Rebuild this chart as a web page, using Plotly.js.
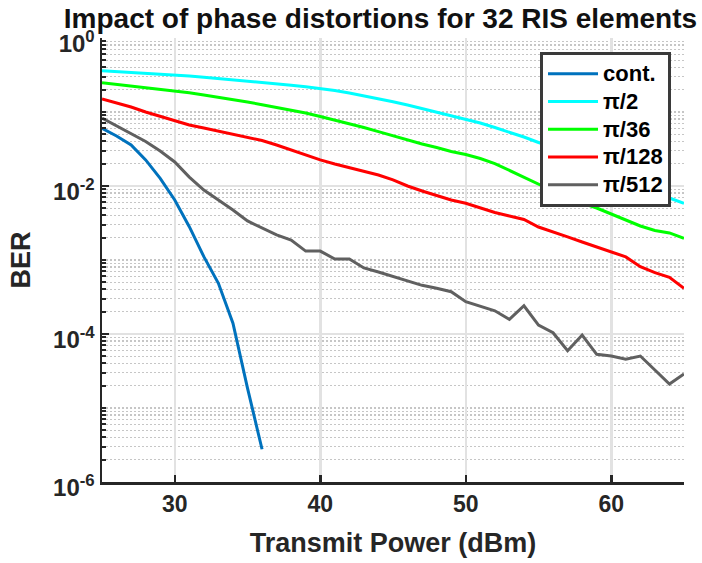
<!DOCTYPE html>
<html>
<head>
<meta charset="utf-8">
<script src="https://cdn.plot.ly/plotly-3.0.1.min.js"></script>
<style>
  html, body { margin: 0; padding: 0; background: #ffffff; }
  #chart { width: 702px; height: 563px; }
</style>
</head>
<body>
<div id="chart"></div>
<script>
// Transmit power sweep (dBm)
const powerFull = [25,26,27,28,29,30,31,32,33,34,35,36,37,38,39,40,41,42,43,44,45,
                   46,47,48,49,50,51,52,53,54,55,56,57,58,59,60,61,62,63,64,65];
const powerCont = [25,26,27,28,29,30,31,32,33,34,35,36];

// BER, continuous phase
const berCont = [0.0602,0.0474,0.0358,0.0225,0.0127,0.00647,0.00282,0.00111,
                 0.000484,0.000140,0.0000186,0.00000277];

// BER, phase quantisation pi/2
const berPi2 = [0.3614,0.3526,0.3439,0.3344,0.3252,0.3162,0.3056,0.2944,0.2836,0.2732,
                0.2624,0.2520,0.2412,0.2302,0.2197,0.2090,0.1952,0.1806,0.1655,0.1512,
                0.1378,0.1243,0.1115,0.1000,0.0897,0.0804,0.0710,0.0617,0.0537,0.0459,
                0.0387,0.0337,0.0279,0.0232,0.0189,0.0155,0.0128,0.0106,0.00856,0.00688,
                0.00584];

// BER, phase quantisation pi/36
const berPi36 = [0.2489,0.2367,0.2253,0.2143,0.2039,0.1940,0.1817,0.1697,0.1585,0.1475,
                 0.1365,0.1255,0.1154,0.1058,0.0969,0.0869,0.0779,0.0699,0.0617,0.0542,
                 0.0474,0.0418,0.0369,0.0331,0.0293,0.0266,0.0235,0.0201,0.0162,0.0132,
                 0.0106,0.00856,0.00710,0.00589,0.00504,0.00418,0.00347,0.00288,0.00250,
                 0.00232,0.00196];

// BER, phase quantisation pi/128
const berPi128 = [0.1498,0.1323,0.1168,0.1000,0.0869,0.0755,0.0667,0.0608,0.0554,0.0504,
                  0.0459,0.0412,0.0358,0.0307,0.0262,0.0225,0.0198,0.0178,0.0159,0.0141,
                  0.0121,0.0100,0.00856,0.00744,0.00647,0.00584,0.00504,0.00438,0.00393,
                  0.00353,0.00279,0.00241,0.00205,0.00175,0.00150,0.00130,0.00110,
                  0.000812,0.000674,0.000584,0.000415];

// BER, phase quantisation pi/512
const berPi512 = [0.0830,0.0647,0.0515,0.0399,0.0297,0.0211,0.0132,0.00883,0.00647,0.00474,
                  0.00337,0.00271,0.00218,0.00186,0.00132,0.00132,0.00103,0.00103,0.000780,
                  0.000688,0.000595,0.000520,0.000455,0.000415,0.000373,0.000273,0.000239,
                  0.000206,0.000158,0.000241,0.000132,0.000104,0.0000595,0.0000969,
                  0.0000532,0.0000504,0.0000455,0.0000504,0.0000326,0.0000211,0.0000288];

const seriesNames = ['cont.', 'π/2', 'π/36', 'π/128', 'π/512'];
const seriesColors = ['#0072BD', '#00FFFF', '#00FF00', '#FF0000', '#606060'];

const xTickVals = [30, 40, 50, 60];
const xTickText = ['30', '40', '50', '60'];
const yTickVals = [1e-6, 1e-4, 1e-2, 1];
const yTickText = ['10<sup>-6</sup>', '10<sup>-4</sup>', '10<sup>-2</sup>', '10<sup>0</sup>'];

// minor log-scale ticks: 1..9 within every decade
const yMinorVals = [];
for (let e = -6; e < 0; e++) {
  for (let d = 1; d <= 9; d++) yMinorVals.push(d * Math.pow(10, e));
}

const xs = [powerCont, powerFull, powerFull, powerFull, powerFull];
const ys = [berCont, berPi2, berPi36, berPi128, berPi512];

// legend rows are spaced by the legend font size; entry text is drawn a bit larger
const traces = ys.map((y, i) => ({
  type: 'scatter',
  mode: 'lines',
  x: xs[i],
  y: y,
  name: '<span style="font-size:22px">' + seriesNames[i] + '</span>',
  line: { color: seriesColors[i], width: 3 }
}));

const FONT = '"Liberation Sans", Arial, Helvetica, sans-serif';
const INK = '#262626';

const layout = {
  width: 702,
  height: 563,
  margin: { l: 102, r: 18, t: 38, b: 81 },
  paper_bgcolor: '#ffffff',
  plot_bgcolor: '#ffffff',
  font: { family: FONT, size: 23, color: INK, weight: 'bold' },
  title: {
    text: 'Impact of phase distortions for 32 RIS elements',
    font: { family: FONT, size: 28, color: '#111111', weight: 'bold' },
    xref: 'container', x: 0.542, xanchor: 'center',
    yref: 'container', y: 0.968, yanchor: 'middle'
  },
  xaxis: {
    range: [25, 65],
    tickmode: 'array', tickvals: xTickVals, ticktext: xTickText,
    ticks: 'inside', ticklen: 7, tickwidth: 2.5, tickcolor: INK,
    showline: true, linecolor: INK, linewidth: 2.5, mirror: false,
    showgrid: true, gridcolor: '#e2e2e2', gridwidth: 2.5,
    zeroline: false,
    tickfont: { family: FONT, size: 23, color: INK, weight: 'bold' },
    title: { text: 'Transmit Power (dBm)', standoff: 17,
             font: { family: FONT, size: 27, color: INK, weight: 'bold' } }
  },
  yaxis: {
    type: 'log',
    range: [-6, 0],
    tickmode: 'array', tickvals: yTickVals, ticktext: yTickText,
    ticks: 'inside', ticklen: 7, tickwidth: 2.5, tickcolor: INK,
    ticklabelshift: 6,
    showline: true, linecolor: INK, linewidth: 2.5, mirror: false,
    showgrid: true, gridcolor: '#e2e2e2', gridwidth: 2.5,
    zeroline: false,
    tickfont: { family: FONT, size: 24, color: INK, weight: 'bold' },
    minor: {
      tickmode: 'array', tickvals: yMinorVals,
      ticks: 'inside', ticklen: 4, tickwidth: 2, tickcolor: INK,
      showgrid: true, gridcolor: '#c6c6c6', gridwidth: 1.5, griddash: '2px,2px'
    },
    title: { text: 'BER', standoff: 15,
             font: { family: FONT, size: 27, color: INK, weight: 'bold' } }
  },
  legend: {
    x: 0.7526, y: 0.9685, xanchor: 'left', yanchor: 'top',
    bgcolor: '#ffffff', bordercolor: '#3a3a3a', borderwidth: 3,
    itemwidth: 50,
    font: { family: FONT, size: 19, color: '#000000', weight: 'bold' }
  },
  showlegend: true
};

Plotly.newPlot('chart', traces, layout, { staticPlot: true, displayModeBar: false });
</script>
</body>
</html>
